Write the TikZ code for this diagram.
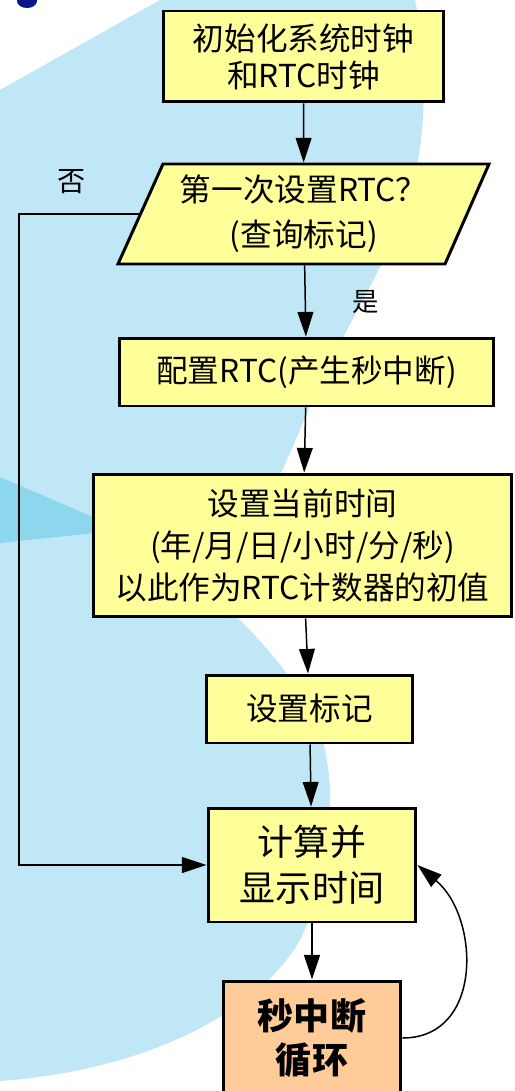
\documentclass[tikz,border=0pt]{standalone}
\usepackage{fontspec}
\setmainfont{Noto Sans CJK SC}
\usetikzlibrary{arrows.meta}
\definecolor{amarelo}{RGB}{255,255,153}
\definecolor{laranja}{RGB}{255,204,153}
\definecolor{fundo}{RGB}{192,231,246}
\definecolor{faixa}{RGB}{140,214,238}
\definecolor{marinho}{RGB}{10,20,140}
\begin{document}
\begin{tikzpicture}[x=0.02cm, y=0.02cm,
    caixa/.style={draw, line width=1.7pt, fill=amarelo, inner sep=0pt, align=center,
      font=\fontsize{18}{21}\selectfont},
    seta/.style={-{Triangle[length=14pt,width=9pt]}, line width=0.85pt}]
  \useasboundingbox (0,0) rectangle (514,-1091);
  \clip (0,0) rectangle (514,-1091);

  % fundo
  \fill[fundo] (0,-90) -- (160,0) -- (415,0)
    .. controls (428,-60) and (428,-150) .. (405,-210)
    .. controls (385,-270) and (330,-350) .. (300,-430)
    .. controls (270,-500) and (240,-560) .. (232,-612)
    .. controls (260,-640) and (310,-690) .. (325,-750)
    .. controls (340,-820) and (320,-900) .. (300,-940)
    .. controls (260,-1010) and (150,-1070) .. (0,-1081) -- cycle;
  \fill[faixa] (0,-477) -- (123,-530) -- (0,-543) -- cycle;
  \fill[marinho] (27,-1) ellipse [x radius=0.2cm, y radius=0.14cm];

  % caixas
  \node[caixa, minimum width=5.62cm, minimum height=1.82cm] (init) at (303.5,-56.5)
    {初始化系统时钟\\和RTC时钟};
  \filldraw[fill=amarelo, line width=1.7pt] (163,-164) -- (489,-164) -- (445,-264)
    -- (118,-264) -- cycle;
  \node[caixa, draw=none, fill=none, minimum width=6.52cm, minimum height=2cm,
    font=\fontsize{18}{25.5}\selectfont] (prim) at (303.75,-214)
    {第一次设置RTC？\\(查询标记)};
  \node[caixa, minimum width=7.5cm, minimum height=1.36cm] (conf) at (306.5,-372)
    {配置RTC(产生秒中断)};
  \node[caixa, minimum width=8.38cm, minimum height=2.86cm,
    font=\fontsize{18}{24}\selectfont] (hora) at (302.5,-545.5)
    {设置当前时间\\(年/月/日/小时/分/秒)\\以此作为RTC计数器的初值};
  \node[caixa, minimum width=4.14cm, minimum height=1.36cm] (marca) at (309.5,-709)
    {设置标记};
  \node[caixa, minimum width=4.16cm, minimum height=2.28cm,
    font=\fontsize{20.5}{26}\selectfont] (calc) at (312,-865)
    {计算并\\显示时间};
  \node[caixa, fill=laranja, minimum width=3.56cm, minimum height=2.28cm,
    font=\fontsize{20.5}{25.5}\selectfont\bfseries] (laco) at (312,-1038)
    {秒中断\\循环};

  % rotulos
  \node[font=\fontsize{16}{16}\selectfont] (nao) at (72,-182) {否};
  \node[font=\fontsize{15}{15}\selectfont] (sim) at (366,-302) {是};

  % setas
  \draw[seta] (init) -- (prim);
  \draw[seta] (prim) -- (conf);
  \draw[seta] (conf) -- (hora);
  \draw[seta] (hora) -- (marca);
  \draw[seta] (marca) -- (calc);
  \draw[seta] (calc) -- (laco);
  \coordinate (dobra) at (19,-214);
  \draw[seta] (prim.west) -- (dobra) |- (calc.west);
  \draw[seta] (laco.east) to[out=0, in=-40, looseness=1.2] (calc.east);
\end{tikzpicture}
\end{document}
